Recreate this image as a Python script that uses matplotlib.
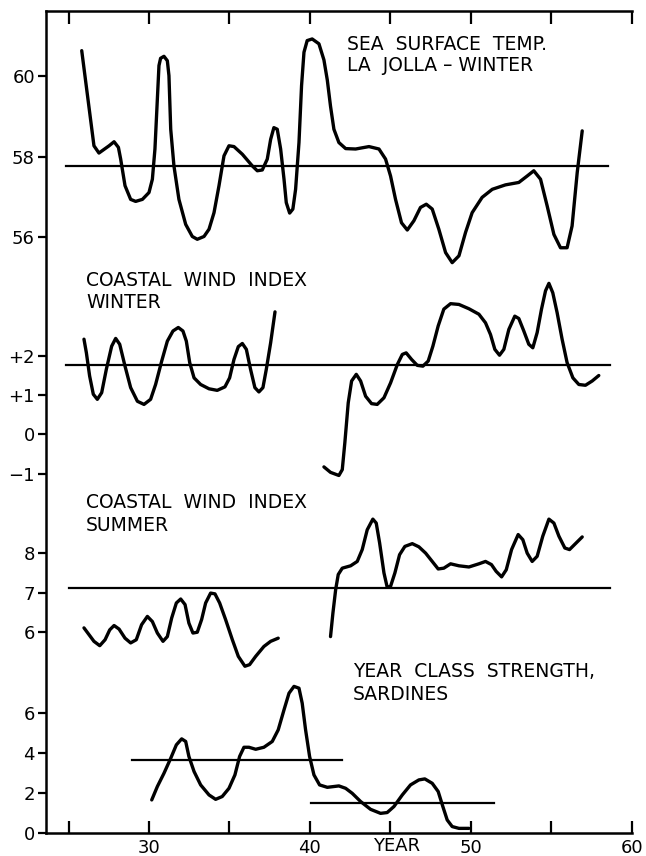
from matplotlib import pyplot as plt

# sea surface temp, La Jolla winter
sst_year = [25.82, 26.58, 26.89, 27.52, 27.83, 28.10, 28.24, 28.51, 28.86, 29.17, 29.59, 30.0, 30.21, 30.37,
            30.52, 30.62, 30.72, 30.93, 31.14, 31.24, 31.35, 31.55, 31.86, 32.28, 32.69, 33.0, 33.42, 33.73,
            34.04, 34.35, 34.66, 34.97, 35.28, 35.80, 36.42, 36.73, 37.04, 37.35, 37.56, 37.76, 37.97, 38.18,
            38.39, 38.53, 38.74, 38.94, 39.11, 39.32, 39.48, 39.63, 39.83, 40.14, 40.56, 40.87, 41.08, 41.28,
            41.49, 41.80, 42.22, 42.84, 43.67, 44.29, 44.70, 45.01, 45.32, 45.69, 46.05, 46.46, 46.87, 47.23,
            47.60, 48.01, 48.43, 48.84, 49.26, 49.67, 50.08, 50.70, 51.33, 52.15, 52.98, 53.5, 53.91, 54.33,
            54.74, 55.16, 55.57, 55.98, 56.29, 56.61, 56.92]
sst_vals = [60.63, 58.27, 58.09, 58.27, 58.37, 58.23, 57.94, 57.28, 56.94, 56.89, 56.94, 57.11, 57.44, 58.19,
            59.43, 60.26, 60.44, 60.49, 60.38, 60.01, 58.68, 57.77, 56.94, 56.32, 56.02, 55.95, 56.02, 56.20,
            56.61, 57.28, 58.02, 58.27, 58.25, 58.06, 57.77, 57.65, 57.67, 57.94, 58.43, 58.72, 58.68, 58.19,
            57.44, 56.86, 56.60, 56.70, 57.19, 58.35, 59.76, 60.59, 60.88, 60.92, 60.80, 60.40, 59.90, 59.25,
            58.68, 58.35, 58.20, 58.19, 58.25, 58.19, 57.94, 57.52, 56.94, 56.36, 56.18, 56.41, 56.74, 56.82,
            56.70, 56.20, 55.62, 55.37, 55.54, 56.12, 56.61, 56.99, 57.19, 57.30, 57.36, 57.52, 57.65, 57.44,
            56.78, 56.07, 55.74, 55.74, 56.28, 57.61, 58.64]
sst_mean = (24.85, 58.55, 57.76)

# coastal wind index, winter (two pieces)
ww1_year = [25.96, 26.11, 26.31, 26.54, 26.79, 27.06, 27.35, 27.68, 27.93, 28.18, 28.51, 28.86, 29.28, 29.69,
            30.10, 30.41, 30.79, 31.14, 31.49, 31.82, 32.11, 32.32, 32.53, 32.80, 33.21, 33.73, 34.24, 34.72,
            35.01, 35.28, 35.55, 35.80, 36.05, 36.31, 36.58, 36.83, 37.08, 37.29, 37.56, 37.83]
ww1_vals = [2.44, 2.09, 1.50, 1.03, 0.90, 1.07, 1.67, 2.26, 2.46, 2.31, 1.75, 1.20, 0.85, 0.77,
            0.90, 1.28, 1.88, 2.39, 2.65, 2.74, 2.65, 2.39, 1.84, 1.45, 1.28, 1.17, 1.13, 1.22,
            1.45, 1.92, 2.25, 2.33, 2.18, 1.67, 1.20, 1.09, 1.20, 1.67, 2.35, 3.14]
ww2_year = [40.87, 41.28, 41.80, 42.01, 42.17, 42.38, 42.59, 42.88, 43.15, 43.46, 43.83, 44.18, 44.60, 45.01,
            45.43, 45.74, 45.98, 46.32, 46.67, 47.02, 47.35, 47.64, 47.97, 48.32, 48.74, 49.26, 49.88, 50.5,
            50.91, 51.22, 51.49, 51.78, 52.05, 52.36, 52.73, 52.98, 53.29, 53.60, 53.85, 54.12, 54.39, 54.64,
            54.85, 55.09, 55.36, 55.67, 55.98, 56.34, 56.71, 57.12, 57.54, 57.95]
ww2_vals = [-0.83, -0.97, -1.05, -0.90, -0.21, 0.81, 1.37, 1.54, 1.37, 0.98, 0.79, 0.77, 0.94, 1.32,
            1.79, 2.05, 2.09, 1.92, 1.77, 1.75, 1.88, 2.26, 2.78, 3.21, 3.35, 3.33, 3.22, 3.08,
            2.86, 2.56, 2.18, 2.03, 2.18, 2.69, 3.03, 2.97, 2.65, 2.31, 2.22, 2.61, 3.21, 3.68,
            3.87, 3.63, 3.12, 2.44, 1.84, 1.45, 1.28, 1.26, 1.37, 1.51]
ww_mean = (24.85, 58.65, 1.77)

# coastal wind index, summer (two pieces)
ws1_year = [25.96, 26.27, 26.58, 26.94, 27.27, 27.56, 27.83, 28.14, 28.51, 28.86, 29.21, 29.54, 29.90, 30.21,
            30.52, 30.87, 31.14, 31.41, 31.70, 31.97, 32.24, 32.48, 32.73, 33.00, 33.27, 33.52, 33.83, 34.10,
            34.39, 34.76, 35.18, 35.55, 35.96, 36.25, 36.63, 37.14, 37.56, 38.03]
ws1_vals = [6.11, 5.94, 5.77, 5.66, 5.81, 6.06, 6.17, 6.08, 5.85, 5.73, 5.81, 6.19, 6.40, 6.27,
            5.98, 5.77, 5.89, 6.36, 6.74, 6.84, 6.70, 6.23, 5.98, 6.00, 6.32, 6.74, 6.99, 6.97,
            6.74, 6.32, 5.81, 5.39, 5.14, 5.18, 5.39, 5.64, 5.77, 5.85]
ws2_year = [41.28, 41.43, 41.60, 41.76, 42.01, 42.53, 42.94, 43.25, 43.56, 43.91, 44.12, 44.33, 44.60, 44.80,
            45.01, 45.28, 45.57, 45.90, 46.36, 46.77, 47.19, 47.60, 47.97, 48.32, 48.74, 49.26, 49.88, 50.5,
            50.91, 51.28, 51.57, 51.91, 52.20, 52.53, 52.94, 53.23, 53.5, 53.81, 54.12, 54.47, 54.85, 55.16,
            55.47, 55.84, 56.13, 56.5, 56.92]
ws2_vals = [5.89, 6.49, 7.08, 7.46, 7.62, 7.68, 7.79, 8.09, 8.59, 8.86, 8.76, 8.26, 7.50, 7.14,
            7.16, 7.50, 7.96, 8.17, 8.24, 8.16, 8.00, 7.79, 7.60, 7.62, 7.73, 7.68, 7.65, 7.73,
            7.79, 7.71, 7.54, 7.40, 7.58, 8.09, 8.47, 8.34, 8.00, 7.79, 7.92, 8.43, 8.86, 8.76,
            8.43, 8.13, 8.09, 8.24, 8.41]
ws_mean = (25.0, 58.65, 7.13)

# year class strength, sardines
sar_year = [30.17, 30.52, 30.93, 31.35, 31.70, 32.03, 32.28, 32.48, 32.80, 33.21, 33.73, 34.14, 34.55, 34.97,
            35.34, 35.63, 35.90, 36.21, 36.63, 37.14, 37.66, 38.03, 38.39, 38.70, 39.01, 39.32, 39.52, 39.73,
            39.98, 40.25, 40.60, 41.08, 41.80, 42.22, 42.63, 43.15, 43.77, 44.39, 44.80, 45.22, 45.74, 46.25,
            46.77, 47.14, 47.60, 47.97, 48.26, 48.53, 48.84, 49.26, 49.88]
sar_vals = [1.65, 2.32, 2.98, 3.73, 4.40, 4.70, 4.57, 3.82, 3.07, 2.40, 1.90, 1.68, 1.82, 2.23,
            2.90, 3.82, 4.28, 4.28, 4.18, 4.28, 4.57, 5.15, 6.15, 6.98, 7.32, 7.23, 6.48, 5.15,
            3.82, 2.90, 2.40, 2.28, 2.35, 2.23, 1.98, 1.57, 1.18, 0.98, 1.02, 1.32, 1.90, 2.40,
            2.65, 2.70, 2.48, 2.07, 1.32, 0.65, 0.32, 0.23, 0.23]
sar_means = [(28.95, 42.0, 3.65), (40.05, 51.45, 1.52)]

plt.rcParams['font.family'] = 'DejaVu Sans'
fig = plt.figure(figsize=(6.46, 8.56), dpi=100)
rect = [0.0712, 0.0269, 0.9068, 0.9603]

# bottom panel axes carries the frame
ax = fig.add_axes(rect)
ax.set_xlim(23.6, 60)
ax.set_ylim(0, 41.05)
ax.spines['right'].set_visible(False)
for s in ['left', 'bottom', 'top']:
    ax.spines[s].set_linewidth(1.8)
ax.set_xticks([25, 30, 35, 40, 45, 50, 55, 60])
ax.set_xticklabels(['', '30', '', '40', '', '50', '', '60'], fontsize=13)
ax.tick_params(axis='x', direction='in', length=9, width=1.6, top=True, pad=4)
ax.set_yticks([0, 2, 4, 6])
ax.tick_params(axis='y', direction='out', length=6, width=1.6, labelsize=13, pad=2)
ax.set_xlabel('YEAR', fontsize=13)
ax.xaxis.set_label_coords(0.599, -0.005)

ax.plot(sar_year, sar_vals, color='black', lw=2.4, solid_joinstyle='round', solid_capstyle='round')
for x0, x1, m in sar_means:
    ax.plot([x0, x1], [m, m], color='black', lw=1.6)


def panel(lim, ticks, labels):
    a = fig.add_axes(rect, sharex=ax)
    a.patch.set_visible(False)
    for s in a.spines.values():
        s.set_visible(False)
    a.set_ylim(*lim)
    a.set_yticks(ticks)
    a.set_yticklabels(labels)
    a.tick_params(axis='y', direction='out', length=6, width=1.6, labelsize=13, pad=2)
    a.tick_params(axis='x', bottom=False, top=False, labelbottom=False)
    return a


ax_sst = panel((41.22, 61.615), [56, 58, 60], ['56', '58', '60'])
ax_sst.plot(sst_year, sst_vals, color='black', lw=2.4, solid_joinstyle='round', solid_capstyle='round')
ax_sst.plot(sst_mean[:2], [sst_mean[2]] * 2, color='black', lw=1.6)

ax_ww = panel((-10.205, 10.846), [-1, 0, 1, 2], ['\u22121', '0', '+1', '+2'])
ax_ww.plot(ww1_year, ww1_vals, color='black', lw=2.4, solid_joinstyle='round', solid_capstyle='round')
ax_ww.plot(ww2_year, ww2_vals, color='black', lw=2.4, solid_joinstyle='round', solid_capstyle='round')
ax_ww.plot(ww_mean[:2], [ww_mean[2]] * 2, color='black', lw=1.6)

ax_ws = panel((0.924, 21.71), [6, 7, 8], ['6', '7', '8'])
ax_ws.plot(ws1_year, ws1_vals, color='black', lw=2.4, solid_joinstyle='round', solid_capstyle='round')
ax_ws.plot(ws2_year, ws2_vals, color='black', lw=2.4, solid_joinstyle='round', solid_capstyle='round')
ax_ws.plot(ws_mean[:2], [ws_mean[2]] * 2, color='black', lw=1.6)

# panel titles
fs = 13.5
fig.text(347 / 646, 1 - 50 / 856, 'SEA  SURFACE  TEMP.', fontsize=fs)
fig.text(347 / 646, 1 - 71 / 856, 'LA  JOLLA \u2013 WINTER', fontsize=fs)
fig.text(86 / 646, 1 - 286 / 856, 'COASTAL  WIND  INDEX', fontsize=fs)
fig.text(86 / 646, 1 - 308 / 856, 'WINTER', fontsize=fs)
fig.text(86 / 646, 1 - 508 / 856, 'COASTAL  WIND  INDEX', fontsize=fs)
fig.text(86 / 646, 1 - 531 / 856, 'SUMMER', fontsize=fs)
fig.text(353 / 646, 1 - 677 / 856, 'YEAR  CLASS  STRENGTH,', fontsize=fs)
fig.text(353 / 646, 1 - 700 / 856, 'SARDINES', fontsize=fs)

plt.savefig('out.png', dpi=100)
